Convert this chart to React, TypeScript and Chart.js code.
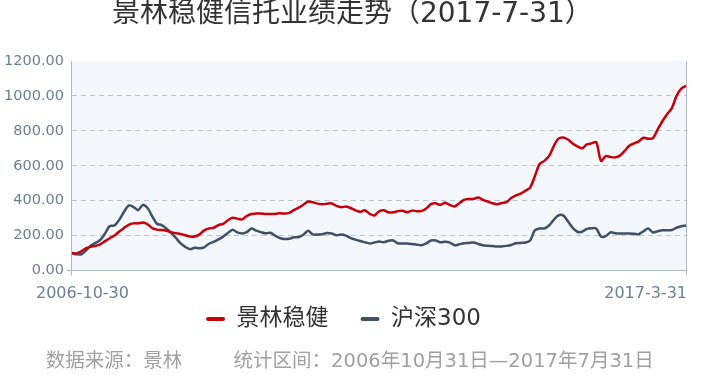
import { useEffect, useRef } from "react";
import { Chart, registerables } from "chart.js";

Chart.register(...registerables);

const FONT = "'DejaVu Sans', 'Noto Sans CJK SC', sans-serif";

const titleText = "  景林稳健信托业绩走势（2017-7-31）";
const footerText = "  数据来源：景林　　  统计区间：2006年10月31日—2017年7月31日";
const seriesNames = ["景林稳健", "沪深300"];
const xTickLabels = ["2006-10-30", "2017-3-31"];
const yTicks = [0, 200, 400, 600, 800, 1000, 1200];

const jinglin = [
  100, 98, 110, 128, 136, 141, 150, 168, 185, 200,
  223, 243, 262, 270, 270, 275, 265, 243, 234, 232,
  228, 220, 214, 209, 202, 194, 195, 207, 230, 241,
  245, 260, 267, 288, 302, 297, 293, 312, 324, 326,
  327, 324, 324, 324, 328, 326, 330, 347, 360, 377,
  395, 391, 383, 380, 383, 384, 370, 363, 366, 358,
  345, 336, 345, 325, 315, 338, 345, 333, 333, 340,
  342, 334, 343, 340, 340, 355, 380, 385, 376, 388,
  375, 367, 385, 405, 410, 410, 418, 405, 395, 385,
  380, 387, 392, 415, 430, 440, 457, 475, 540, 610,
  628, 655, 712, 755, 762, 750, 728, 711, 700, 722,
  728, 735, 628, 655, 650, 648, 658, 685, 715, 728,
  740, 760, 755, 758, 808, 855, 895, 930, 1000, 1042,
  1058,
];

const hs300 = [
  98, 93, 93, 115, 144, 158, 175, 212, 255, 258,
  290, 335, 372, 365, 345, 375, 358, 310, 268, 260,
  240, 215, 187, 155, 135, 122, 130, 128, 133, 153,
  164, 178, 194, 215, 234, 218, 212, 220, 240, 228,
  220, 213, 216, 200, 186, 180, 182, 190, 192, 205,
  228, 207, 206, 208, 215, 212, 202, 206, 200, 186,
  177, 169, 162, 155, 160, 166, 162, 170, 172, 156,
  155, 155, 152, 148, 145, 155, 172, 172, 162, 165,
  160, 145, 150, 156, 158, 160, 152, 145, 142, 140,
  138, 138, 141, 146, 156, 158, 160, 172, 230, 241,
  241, 258, 290, 316, 316, 282, 245, 222, 222, 238,
  242, 240, 195, 197, 218, 214, 212, 212, 212, 210,
  208, 225, 240, 218, 225, 230, 230, 232, 245, 253,
  258,
];

// month categories starting 2006-10
const categories: string[] = jinglin.map((_, i) => {
  const m = 9 + i;
  return `${2006 + Math.floor(m / 12)}-${(m % 12) + 1}`;
});

const AXIS = "#aebbc7";
const GRID = "#b9c5cf";
const TICK_TEXT = "#6b7f95";

const plotBg = {
  id: "plotBg",
  beforeDraw(chart: any) {
    const { ctx, chartArea } = chart;
    ctx.save();
    ctx.fillStyle = "#f4f7fc";
    ctx.fillRect(chartArea.left, chartArea.top, chartArea.width, chartArea.height);
    ctx.restore();
  },
};

const xEdgeLabels = {
  id: "xEdgeLabels",
  afterDraw(chart: any) {
    const x = chart.scales.x;
    const ctx = chart.ctx;
    ctx.save();
    ctx.font = `16px ${FONT}`;
    ctx.fillStyle = TICK_TEXT;
    ctx.textBaseline = "middle";
    ctx.textAlign = "left";
    ctx.fillText(xTickLabels[0], x.getPixelForValue(0) - 36, x.bottom + 18.5);
    ctx.textAlign = "right";
    ctx.fillText(xTickLabels[1], x.getPixelForValue(categories.length - 1) + 1, x.bottom + 18.5);
    ctx.restore();
  },
};

export default function App() {
  const ref = useRef<HTMLCanvasElement | null>(null);
  useEffect(() => {
    document.body.style.margin = "0";
    if (!ref.current) return;
    const last = categories.length - 1;
    const chart = new Chart(ref.current, {
      type: "line",
      data: {
        labels: categories,
        datasets: [
          {
            label: seriesNames[0],
            data: jinglin,
            borderColor: "#c8000a",
            backgroundColor: "#c8000a",
            borderWidth: 2.5,
            pointRadius: 0,
            tension: 0.3,
            fill: false,
          },
          {
            label: seriesNames[1],
            data: hs300,
            borderColor: "#3f5069",
            backgroundColor: "#3f5069",
            borderWidth: 2.5,
            pointRadius: 0,
            tension: 0.3,
            fill: false,
          },
        ],
      },
      options: {
        responsive: false,
        animation: false,
        devicePixelRatio: 1,
        layout: { padding: { left: 1, right: 15, top: 0, bottom: 0 } },
        plugins: {
          title: {
            display: true,
            text: titleText,
            color: "#333333",
            font: { family: FONT, size: 28, weight: "normal", lineHeight: 1 },
            padding: { top: 1, bottom: 32 },
          },
          subtitle: {
            display: true,
            position: "bottom",
            text: footerText,
            color: "#a0a0a0",
            font: { family: FONT, size: 19.5, weight: "normal", lineHeight: 1 },
            padding: { top: 12, bottom: 3 },
          },
          legend: {
            position: "bottom",
            labels: {
              color: "#333333",
              font: { family: FONT, size: 23 },
              boxWidth: 19,
              boxHeight: 4,
              padding: 32,
              generateLabels: (c: any) =>
                Chart.defaults.plugins.legend.labels
                  .generateLabels(c)
                  .map((l: any) => ({ ...l, lineWidth: 0, borderRadius: 2 })),
            },
          },
          tooltip: { enabled: false },
        },
        scales: {
          x: {
            type: "category",
            ticks: { display: false },
            grid: {
              color: (ctx: any) => (ctx.index === last ? AXIS : "rgba(0,0,0,0)"),
              tickColor: (ctx: any) => (ctx.index === 0 || ctx.index === last ? AXIS : "rgba(0,0,0,0)"),
              tickLength: 5,
              lineWidth: 1,
            },
            border: { color: AXIS, width: 1 },
          },
          y: {
            min: yTicks[0],
            max: yTicks[yTicks.length - 1],
            afterBuildTicks: (scale: any) => {
              scale.ticks = yTicks.map((v) => ({ value: v }));
            },
            ticks: {
              color: TICK_TEXT,
              font: { family: FONT, size: 14.5 },
              padding: 3,
              callback: (v: any) => Number(v).toFixed(2),
            },
            grid: {
              color: (ctx: any) => (ctx.tick && ctx.tick.value === 1200 ? "rgba(0,0,0,0)" : GRID),
              tickColor: (ctx: any) => (ctx.tick && ctx.tick.value === 0 ? AXIS : "rgba(0,0,0,0)"),
              tickLength: 5,
              lineWidth: 1,
            },
            border: { color: AXIS, width: 1, dash: [5, 4] },
          },
        },
      },
      plugins: [plotBg, xEdgeLabels],
    } as any);
    return () => chart.destroy();
  }, []);
  return (
    <div style={{ width: 701, height: 375 }}>
      <canvas ref={ref} width={701} height={375} style={{ display: "block" }} />
    </div>
  );
}
